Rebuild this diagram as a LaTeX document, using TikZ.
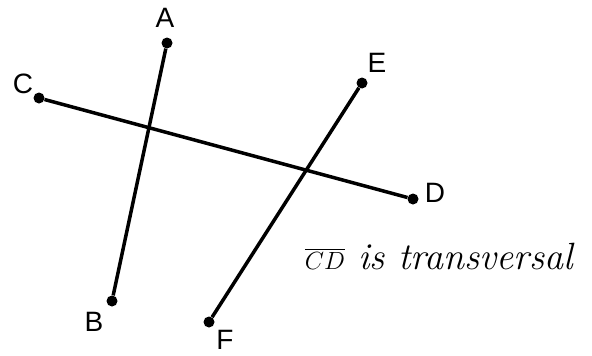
\documentclass[tikz,border=0pt]{standalone}
\usepackage{amsmath}
\usepackage{fontspec}
\newfontfamily\labelfont{Liberation Sans}

\begin{document}
\begin{tikzpicture}[x=1pt,y=-1pt]
	\useasboundingbox (0,0) rectangle (592,356);
	\begin{scope}[every node/.style={circle,fill,inner sep=0pt,minimum size=11pt}]
	\node (A) at (167,43) {};
	\node (B) at (112,301) {};
	\node (C) at (39,98) {};
	\node (D) at (413,199) {};
	\node (E) at (362,83) {};
	\node (F) at (209,322) {};
	\end{scope}
	\draw [line width=3.5pt] (A) edge (B);
	\draw [line width=3.5pt] (C) edge (D);
	\draw [line width=3.5pt] (E) edge (F);
	\begin{scope}[every node/.style={inner sep=0pt,text depth=0pt,font=\labelfont\fontsize{28}{30}\selectfont}]
	\node (lA) at (165,18) {A};
	\node (lB) at (94,322) {B};
	\node (lC) at (23,84) {C};
	\node (lD) at (435,193) {D};
	\node (lE) at (377,63) {E};
	\node (lF) at (225,340) {F};
	\end{scope}
	\node (note) at (439,257) {\fontsize{38}{40}\selectfont\itshape $\overline{CD}$ is transversal};
\end{tikzpicture}
\end{document}
